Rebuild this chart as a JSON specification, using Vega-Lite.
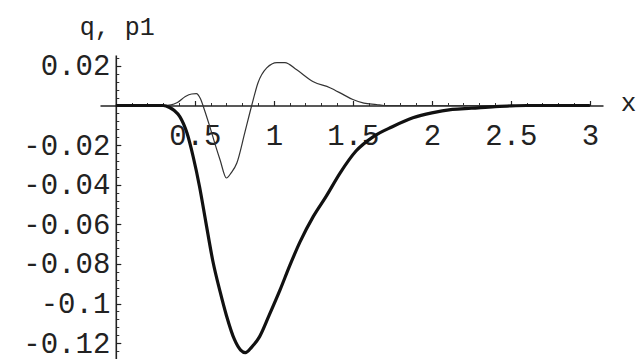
{
  "$schema": "https://vega.github.io/schema/vega-lite/v6.json",
  "autosize": "none",
  "width": 503,
  "height": 304,
  "padding": {"left": 100, "top": 55, "right": 33, "bottom": 0},
  "background": "#ffffff",
  "config": {"view": {"stroke": null}},
  "datasets": {
    "q": [
      {"x": 0, "q": 0}, {"x": 0.3, "q": 0}, {"x": 0.34, "q": -0.001},
      {"x": 0.37, "q": -0.0025}, {"x": 0.405, "q": -0.0056}, {"x": 0.45, "q": -0.0138},
      {"x": 0.49, "q": -0.026}, {"x": 0.53, "q": -0.041}, {"x": 0.57, "q": -0.059},
      {"x": 0.614, "q": -0.0785}, {"x": 0.66, "q": -0.094}, {"x": 0.7, "q": -0.106},
      {"x": 0.75, "q": -0.118}, {"x": 0.79, "q": -0.1235}, {"x": 0.82, "q": -0.1248},
      {"x": 0.86, "q": -0.122}, {"x": 0.91, "q": -0.1167}, {"x": 0.97, "q": -0.106},
      {"x": 1.04, "q": -0.093}, {"x": 1.1, "q": -0.081}, {"x": 1.165, "q": -0.069},
      {"x": 1.25, "q": -0.056}, {"x": 1.33, "q": -0.046}, {"x": 1.42, "q": -0.034},
      {"x": 1.52, "q": -0.023}, {"x": 1.63, "q": -0.0157}, {"x": 1.75, "q": -0.0107},
      {"x": 1.88, "q": -0.0062}, {"x": 2.0, "q": -0.0037}, {"x": 2.13, "q": -0.002},
      {"x": 2.25, "q": -0.0014}, {"x": 2.4, "q": -0.0006}, {"x": 2.5, "q": -0.0002},
      {"x": 2.6, "q": 0}, {"x": 3.0, "q": 0}
    ],
    "p1": [
      {"x": 0, "p1": 0}, {"x": 0.3, "p1": 0}, {"x": 0.35, "p1": 0.0003},
      {"x": 0.39, "p1": 0.0015}, {"x": 0.44, "p1": 0.0045}, {"x": 0.48, "p1": 0.0058},
      {"x": 0.51, "p1": 0.006}, {"x": 0.535, "p1": 0.0035}, {"x": 0.56, "p1": -0.002}, {"x": 0.595, "p1": -0.0107},
      {"x": 0.63, "p1": -0.02}, {"x": 0.66, "p1": -0.0275}, {"x": 0.7, "p1": -0.0366},
      {"x": 0.73, "p1": -0.034}, {"x": 0.766, "p1": -0.029}, {"x": 0.816, "p1": -0.0138},
      {"x": 0.86, "p1": 0}, {"x": 0.9, "p1": 0.0115}, {"x": 0.955, "p1": 0.019},
      {"x": 1.02, "p1": 0.0217}, {"x": 1.07, "p1": 0.0217}, {"x": 1.145, "p1": 0.018},
      {"x": 1.25, "p1": 0.012}, {"x": 1.355, "p1": 0.009}, {"x": 1.44, "p1": 0.0055},
      {"x": 1.5, "p1": 0.003}, {"x": 1.57, "p1": 0.0012}, {"x": 1.65, "p1": 0.0005},
      {"x": 1.7, "p1": 0}, {"x": 3.0, "p1": 0}
    ]
  },
  "layer": [
    {
      "data": {"name": "p1"},
      "mark": {"type": "line", "color": "#333333", "strokeWidth": 1.2, "interpolate": "monotone"},
      "encoding": {
        "x": {
          "field": "x", "type": "quantitative",
          "scale": {"domain": [-0.1, 3.083], "nice": false, "zero": false},
          "axis": {
            "orient": "bottom", "offset": -253.5,
            "values": [0.1,0.2,0.3,0.4,0.6,0.7,0.8,0.9,1.1,1.2,1.3,1.4,1.6,1.7,1.8,1.9,2.1,2.2,2.3,2.4,2.6,2.7,2.8,2.9],
            "labels": false, "domain": false, "grid": false, "title": null,
            "tickSize": -3, "tickColor": "#333333", "tickWidth": 1
          }
        },
        "y": {
          "field": "p1", "type": "quantitative",
          "scale": {"domain": [-0.128, 0.0255], "nice": false, "zero": false},
          "axis": {
            "orient": "left", "offset": -15.8,
            "values": [0.024,0.016,0.012,0.008,0.004,-0.004,-0.008,-0.012,-0.016,-0.024,-0.028,-0.032,-0.036,-0.044,-0.048,-0.052,-0.056,-0.064,-0.068,-0.072,-0.076,-0.084,-0.088,-0.092,-0.096,-0.104,-0.108,-0.112,-0.116,-0.124,-0.128],
            "labels": false, "domain": false, "grid": false, "title": null,
            "tickSize": -3, "tickColor": "#333333", "tickWidth": 1
          }
        }
      }
    },
    {
      "data": {"name": "q"},
      "mark": {"type": "line", "color": "#111111", "strokeWidth": 3.2, "interpolate": "monotone"},
      "encoding": {
        "x": {
          "field": "x", "type": "quantitative",
          "scale": {"domain": [-0.1, 3.083], "nice": false, "zero": false},
          "axis": {
            "orient": "bottom", "offset": -253.5,
            "values": [0.5, 1, 1.5, 2, 2.5, 3],
            "labelExpr": "'' + datum.value",
            "grid": false, "domain": true, "domainColor": "#222222", "domainWidth": 1.6,
            "tickSize": -5, "tickColor": "#222222", "tickWidth": 1.2,
            "labelFont": "Liberation Mono", "labelFontSize": 29, "labelColor": "#222222",
            "labelPadding": 21, "labelFlush": false, "labelOverlap": false,
            "title": "x", "titleFont": "Liberation Mono", "titleFontSize": 26,
            "titleFontWeight": "normal", "titleColor": "#222222",
            "titleX": 528, "titleY": -3, "titleAlign": "center", "titleBaseline": "middle", "titleAngle": 0
          }
        },
        "y": {
          "field": "q", "type": "quantitative",
          "scale": {"domain": [-0.128, 0.0255], "nice": false, "zero": false},
          "axis": {
            "orient": "left", "offset": -15.8,
            "values": [0.02, -0.02, -0.04, -0.06, -0.08, -0.1, -0.12],
            "labelExpr": "'' + datum.value",
            "grid": false, "domain": true, "domainColor": "#222222", "domainWidth": 1.6,
            "tickSize": -5, "tickColor": "#222222", "tickWidth": 1.2,
            "labelFont": "Liberation Mono", "labelFontSize": 29, "labelColor": "#222222",
            "labelPadding": 11, "labelFlush": false, "labelOverlap": false, "labelBaseline": "middle",
            "title": "q, p1", "titleFont": "Liberation Mono", "titleFontSize": 25,
            "titleFontWeight": "normal", "titleColor": "#222222",
            "titleX": 1, "titleY": -29, "titleAlign": "center", "titleBaseline": "middle", "titleAngle": 0
          }
        }
      }
    }
  ],
  "resolve": {"axis": {"x": "independent", "y": "independent"}}
}
